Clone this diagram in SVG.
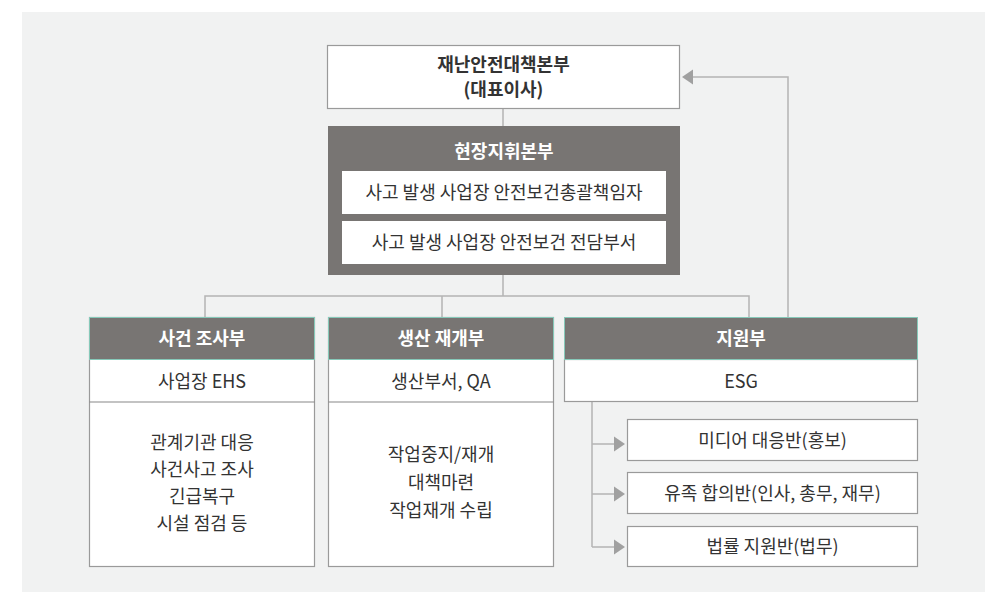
<svg xmlns="http://www.w3.org/2000/svg" width="998" height="592" viewBox="0 0 998 592">
<defs>
<style>
.t{font-family:"Noto Sans CJK KR","Noto Sans",sans-serif;font-size:18px;fill:#333;text-anchor:middle}
.b{font-weight:bold}
.w{fill:#fff}
.box{fill:#fff;stroke:#9a9a9a;stroke-width:1.2}
.dark{fill:#787573}
.hdr{fill:#787573;stroke:#86c9b9;stroke-width:1}
.ln{fill:none;stroke:#b4b4b4;stroke-width:1.5}
.ah{fill:#a0a0a0}
</style>
</defs>
<rect x="0" y="0" width="998" height="592" fill="#fff"/>
<rect x="22" y="12" width="963" height="580" fill="#f1f2f2"/>

<g id="connectors">
<path class="ln" d="M503 109V126M503 275V296M205 317V296H749V317M442 296V317"/>
<path class="ln" d="M788 317V77H692"/>
<polygon class="ah" points="682,77 693,69.5 693,84.5"/>
<path class="ln" d="M592 402V547M592 444H615M592 494H615M592 547H615"/>
<polygon class="ah" points="625,444 614,436.5 614,451.5"/>
<polygon class="ah" points="625,494 614,486.5 614,501.5"/>
<polygon class="ah" points="625,547 614,539.5 614,554.5"/>
</g>

<g id="hq">
<rect class="box" x="327.5" y="45.5" width="352" height="63"/>
<text class="t b" x="503.5" y="71">재난안전대책본부</text>
<text class="t b" x="503.5" y="96">(대표이사)</text>
</g>

<g id="field">
<rect class="dark" x="328" y="126" width="352" height="149"/>
<text class="t b w" x="504" y="158">현장지휘본부</text>
<rect fill="#fff" x="342" y="171" width="324" height="43"/>
<text class="t" x="504" y="199">사고 발생 사업장 안전보건총괄책임자</text>
<rect fill="#fff" x="342" y="221" width="324" height="43"/>
<text class="t" x="504" y="249">사고 발생 사업장 안전보건 전담부서</text>
</g>

<g id="col1">
<rect class="box" x="89.5" y="317.5" width="225" height="249"/>
<rect class="hdr" x="89.5" y="317.5" width="225" height="42"/>
<line x1="89.5" y1="402" x2="314.5" y2="402" stroke="#888" stroke-width="1.2"/>
<text class="t b w" x="202" y="345">사건 조사부</text>
<text class="t" x="202" y="388">사업장 EHS</text>
<text class="t" x="202" y="449">관계기관 대응</text>
<text class="t" x="202" y="476">사건사고 조사</text>
<text class="t" x="202" y="503">긴급복구</text>
<text class="t" x="202" y="530">시설 점검 등</text>
</g>

<g id="col2">
<rect class="box" x="328.5" y="317.5" width="225" height="249"/>
<rect class="hdr" x="328.5" y="317.5" width="225" height="42"/>
<line x1="328.5" y1="402" x2="553.5" y2="402" stroke="#888" stroke-width="1.2"/>
<text class="t b w" x="441" y="345">생산 재개부</text>
<text class="t" x="441" y="388">생산부서, QA</text>
<text class="t" x="441" y="461">작업중지/재개</text>
<text class="t" x="441" y="489">대책마련</text>
<text class="t" x="441" y="517">작업재개 수립</text>
</g>

<g id="col3">
<rect class="box" x="564.5" y="359.5" width="353" height="42"/>
<rect class="hdr" x="564.5" y="317.5" width="353" height="42"/>
<text class="t b w" x="741" y="345">지원부</text>
<text class="t" x="741" y="388">ESG</text>
</g>

<g id="media">
<rect class="box" x="627.5" y="419.5" width="290" height="41"/>
<text class="t" x="772.5" y="447">미디어 대응반(홍보)</text>
</g>
<g id="family">
<rect class="box" x="627.5" y="472.5" width="290" height="41"/>
<text class="t" x="772.5" y="500">유족 합의반(인사, 총무, 재무)</text>
</g>
<g id="legal">
<rect class="box" x="627.5" y="526.5" width="290" height="40"/>
<text class="t" x="772.5" y="553">법률 지원반(법무)</text>
</g>
</svg>
